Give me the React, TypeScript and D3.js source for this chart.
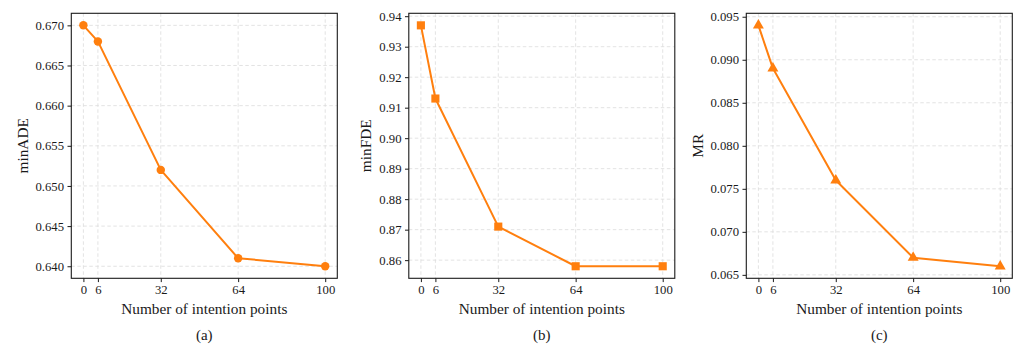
import React, { useEffect, useRef } from 'react';
import * as d3 from 'd3';

// Data
const intentionPoints = [0, 6, 32, 64, 100];
const minADE = [0.670, 0.668, 0.652, 0.641, 0.640];
const minFDE = [0.937, 0.913, 0.871, 0.858, 0.858];
const missRate = [0.094, 0.089, 0.076, 0.067, 0.066];

const adeTicks = [0.640, 0.645, 0.650, 0.655, 0.660, 0.665, 0.670];
const fdeTicks = [0.86, 0.87, 0.88, 0.89, 0.90, 0.91, 0.92, 0.93, 0.94];
const mrTicks = [0.065, 0.070, 0.075, 0.080, 0.085, 0.090, 0.095];

const panelLabels = ['(a)', '(b)', '(c)'];
const yLabels = ['minADE', 'minFDE', 'MR'];
const xLabel = 'Number of intention points';

const App = () => {
  const chartRef = useRef<SVGSVGElement | null>(null);

  useEffect(() => {
    const font = '"Liberation Serif", "Times New Roman", serif';
    const orange = '#ff7f0e';
    const ink = '#1a1a1a';

    const svg = d3.select(chartRef.current);
    svg.selectAll('*').remove();

    const panels = [
      { left: 71.3, values: minADE, ticks: adeTicks, fmt: d3.format('.3f'), marker: d3.symbolCircle, size: 56 },
      { left: 408.8, values: minFDE, ticks: fdeTicks, fmt: d3.format('.2f'), marker: d3.symbolSquare, size: 66 },
      { left: 746.3, values: missRate, ticks: mrTicks, fmt: d3.format('.3f'), marker: d3.symbolTriangle, size: 52 }
    ];
    const top = 13.3;
    const bottom = 278.3;
    const panelW = 266;

    panels.forEach((p, i) => {
      const g = svg.append('g');

      // Scales with 5% margins like matplotlib
      const x = d3.scaleLinear().domain([-5, 105]).range([p.left, p.left + panelW]);
      const [lo, hi] = d3.extent(p.values) as [number, number];
      const pad = (hi - lo) * 0.05;
      const y = d3.scaleLinear().domain([lo - pad, hi + pad]).range([bottom, top]);

      // Grid
      g.append('g')
        .selectAll('line')
        .data(p.ticks)
        .enter()
        .append('line')
        .attr('x1', p.left)
        .attr('x2', p.left + panelW)
        .attr('y1', d => y(d))
        .attr('y2', d => y(d))
        .attr('stroke', '#dcdcdc')
        .attr('stroke-width', 0.8)
        .attr('stroke-dasharray', '3.5,2.5');

      g.append('g')
        .selectAll('line')
        .data(intentionPoints)
        .enter()
        .append('line')
        .attr('x1', d => x(d))
        .attr('x2', d => x(d))
        .attr('y1', top)
        .attr('y2', bottom)
        .attr('stroke', '#dcdcdc')
        .attr('stroke-width', 0.8)
        .attr('stroke-dasharray', '3.5,2.5');

      // Axes
      const xAxis = g.append('g')
        .attr('transform', `translate(0,${bottom})`)
        .call(d3.axisBottom(x).tickValues(intentionPoints).tickSize(3.8).tickSizeOuter(0).tickPadding(3));
      const yAxis = g.append('g')
        .attr('transform', `translate(${p.left},0)`)
        .call(d3.axisLeft(y).tickValues(p.ticks).tickFormat(d => p.fmt(d as number)).tickSize(3.8).tickSizeOuter(0).tickPadding(3.5));

      [xAxis, yAxis].forEach(ax => {
        ax.attr('font-family', null).attr('font-size', null);
        ax.select('.domain').remove();
        ax.selectAll('line').attr('stroke', ink).attr('stroke-width', 1);
        ax.selectAll('text')
          .attr('fill', ink)
          .style('font-family', font)
          .style('font-size', '12.7px');
      });

      // Frame
      g.append('rect')
        .attr('x', p.left)
        .attr('y', top)
        .attr('width', panelW)
        .attr('height', bottom - top)
        .attr('fill', 'none')
        .attr('stroke', ink)
        .attr('stroke-width', 1.1);

      // Line
      const line = d3.line<number>()
        .x((d, j) => x(intentionPoints[j]))
        .y(d => y(d));

      g.append('path')
        .datum(p.values)
        .attr('d', line)
        .attr('fill', 'none')
        .attr('stroke', orange)
        .attr('stroke-width', 2)
        .attr('stroke-linejoin', 'round');

      // Markers
      g.selectAll('.marker')
        .data(p.values)
        .enter()
        .append('path')
        .attr('class', 'marker')
        .attr('d', d3.symbol().type(p.marker).size(p.size))
        .attr('transform', (d, j) => `translate(${x(intentionPoints[j])},${y(d)})`)
        .attr('fill', orange);

      // X Axis Label
      g.append('text')
        .attr('x', p.left + panelW / 2)
        .attr('y', 313.5)
        .attr('text-anchor', 'middle')
        .style('font-family', font)
        .style('font-size', '15.3px')
        .attr('fill', ink)
        .text(xLabel);

      // Y Axis Label, placed left of the widest tick label
      let tickW = 0;
      yAxis.selectAll<SVGTextElement, unknown>('text').each(function () {
        tickW = Math.max(tickW, this.getBBox().width);
      });
      const labelX = p.left - 3.8 - 3.5 - tickW - 4 - 3.3;
      g.append('text')
        .attr('transform', `translate(${labelX},${(top + bottom) / 2}) rotate(-90)`)
        .attr('text-anchor', 'middle')
        .style('font-family', font)
        .style('font-size', '15.3px')
        .attr('fill', ink)
        .text(yLabels[i]);

      // Panel caption
      g.append('text')
        .attr('x', p.left + panelW / 2)
        .attr('y', 339.5)
        .attr('text-anchor', 'middle')
        .style('font-family', font)
        .style('font-size', '15px')
        .attr('fill', ink)
        .text(panelLabels[i]);
    });
  }, []);

  return (
    <svg
      ref={chartRef}
      width={1017}
      height={345}
      style={{ position: 'absolute', left: 0, top: 0, background: 'white' }}
    />
  );
};

export default App;
